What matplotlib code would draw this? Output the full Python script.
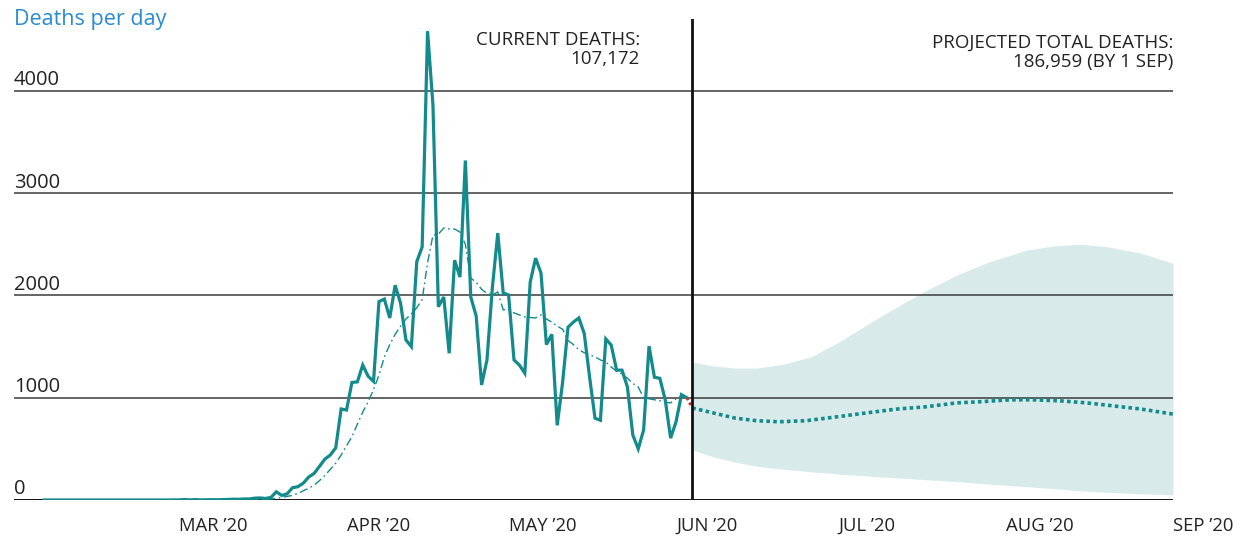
import pandas as pd
import matplotlib
matplotlib.use('Agg')
import matplotlib.pyplot as plt
import matplotlib.transforms as mtransforms

plt.rcParams['font.family'] = ['Open Sans', 'DejaVu Sans']

# daily reported deaths, 5 Feb - 3 Jun 2020
daily_start = '2020-02-05'
daily_deaths = [
    0, 0, 0, 0, 0, 0, 0, 0, 0, 0, 0, 0, 0, 0, 0, 0, 0, 0, 0, 0, 0, 0, 0, 0, 1,
    1, 4, 1, 4, 1, 2, 3, 2, 4, 5, 8, 7, 10, 10, 18, 20, 15, 25, 80, 45,
    60, 120, 130, 165, 225, 260, 330, 400, 440, 510, 890, 880, 1150, 1155, 1320,
    1210, 1160, 1940, 1965, 1780, 2100, 1925, 1565, 1500, 2330, 2475, 4585, 3860,
    1890, 1985, 1435, 2345, 2180, 3320, 1985, 1800, 1125, 1370, 2080, 2610, 2025,
    2005, 1370, 1320, 1240, 2130, 2365, 2220, 1520, 1620, 730, 1150, 1690, 1740,
    1780, 1630, 1200, 800, 780, 1575, 1515, 1270, 1270, 1105, 635, 500, 685, 1505,
    1200, 1190, 980, 605, 765, 1030, 1000,
]

# rolling average, 11 Mar - 3 Jun 2020
avg_start = '2020-03-11'
avg_deaths = [
    1, 2, 2, 3, 4, 5, 6, 10, 15, 25, 35, 45, 65, 90, 115, 145, 190, 240, 300, 360,
    440, 530, 620, 740, 860, 960, 1080, 1220, 1400, 1520, 1620, 1700, 1770, 1820,
    1880, 1960, 2320, 2590, 2600, 2660, 2650, 2650, 2620, 2500, 2170, 2130, 2060,
    2020, 2005, 2035, 1860, 1860, 1830, 1810, 1790, 1785, 1780, 1810, 1770, 1740,
    1700, 1670, 1560, 1520, 1470, 1440, 1420, 1400, 1370, 1350, 1300, 1260, 1230,
    1190, 1140, 1105, 1000, 990, 980, 970, 955, 950, 990, 1020, 1000,
]

# projection (days after 1 Mar 2020)
proj_days = [95, 99, 103, 107, 111, 116, 122, 127, 133, 138, 144, 148, 154, 158,
             163, 168, 173, 178, 184]
proj_mean = [900, 850, 800, 775, 765, 775, 815, 850, 890, 910, 950, 960, 980, 980,
             970, 950, 920, 890, 840]

band_days = [95, 99, 103, 107, 112, 117, 122, 130, 138, 144, 150, 157, 162, 167,
             172, 178, 184]
band_upper = [1350, 1310, 1290, 1290, 1330, 1400, 1540, 1800, 2040, 2200, 2330,
              2445, 2485, 2500, 2475, 2415, 2315]
band_lower = [490, 420, 370, 330, 300, 275, 255, 225, 200, 180, 155, 130, 110, 90,
              75, 60, 50]

y_ticks = [0, 1000, 2000, 3000, 4000]
month_labels = ["MAR \u201920", "APR \u201920", "MAY \u201920", "JUN \u201920",
                "JUL \u201920", "AUG \u201920", "SEP \u201920"]
month_starts = ['2020-03-01', '2020-04-01', '2020-05-01', '2020-06-01',
                '2020-07-01', '2020-08-01', '2020-09-01']
today = '2020-06-04'

teal = '#138a8b'
band_color = '#d8ebea'

base = pd.Timestamp('2020-03-01')
daily_dates = pd.date_range(daily_start, periods=len(daily_deaths), freq='D')
avg_dates = pd.date_range(avg_start, periods=len(avg_deaths), freq='D')
proj_dates = [base + pd.Timedelta(days=d) for d in proj_days]
band_dates = [base + pd.Timedelta(days=d) for d in band_days]

W, H = 1255, 536
fig = plt.figure(figsize=(W / 100, H / 100), dpi=100)
# axes box in pixels: left 14, right 1173, bottom 500, top ~19
ax = fig.add_axes([14 / W, 36 / H, (1173 - 14) / W, (500 - 19.4) / H])

x_left = base - pd.Timedelta(days=30.56)
x_right = pd.Timestamp('2020-09-01')
ax.set_xlim(x_left, x_right)
ax.set_ylim(0, 4700)

ax.fill_between(band_dates, band_lower, band_upper, color=band_color, lw=0, zorder=1)

for v in y_ticks[1:]:
    ax.axhline(v, color='#3a3a3a', lw=1.1, zorder=2)
ax.axhline(0, color='#111111', lw=1.4, zorder=2)

ax.plot(avg_dates, avg_deaths, color=teal, lw=1.0, ls=(0, (6, 2.5, 1.2, 2.5)), zorder=3)
ax.plot(daily_dates, daily_deaths, color=teal, lw=2.3, solid_joinstyle='miter', zorder=4)

# link from last report to start of projection
ax.plot([daily_dates[-1], proj_dates[0]], [daily_deaths[-1], proj_mean[0]],
        color='#c0392b', lw=2.0, ls=(0, (1, 1)), zorder=4)
ax.plot(proj_dates, proj_mean, color=teal, lw=2.6, ls=(0, (1, 0.9)),
        dash_capstyle='butt', zorder=4)

ax.axvline(pd.Timestamp(today), color='#111111', lw=2.0, zorder=5)

for s in ax.spines.values():
    s.set_visible(False)
ax.set_xticks([])
ax.set_yticks([])

# y labels sit above the gridlines
ytrans = mtransforms.blended_transform_factory(ax.transAxes, ax.transData)
for v in y_ticks:
    ax.text(0, v + 55, f'{v}', transform=ytrans, ha='left', va='baseline',
            fontsize=14.5, color='#222222')

xtrans = mtransforms.blended_transform_factory(ax.transData, ax.transAxes)
for lab, m in zip(month_labels, month_starts):
    ax.text(pd.Timestamp(m), -31 / 480.6, lab, transform=xtrans, ha='left',
            va='baseline', fontsize=13.3, color='#222222', clip_on=False)

fig.text(14 / W, 1 - 25 / H, 'Deaths per day', color='#2a8bd0', fontsize=15.5,
         ha='left', va='baseline')

fig.text(640 / W, 1 - 45 / H, 'CURRENT DEATHS:', fontsize=13.5, ha='right',
         va='baseline', color='#222222')
fig.text(640 / W, 1 - 64 / H, '107,172', fontsize=13.5, ha='right',
         va='baseline', color='#222222')
fig.text(1173 / W, 1 - 48 / H, 'PROJECTED TOTAL DEATHS:', fontsize=13.5, ha='right',
         va='baseline', color='#222222')
fig.text(1173 / W, 1 - 67 / H, '186,959 (BY 1 SEP)', fontsize=13.5, ha='right',
         va='baseline', color='#222222')

fig.savefig('out.png', dpi=100)
